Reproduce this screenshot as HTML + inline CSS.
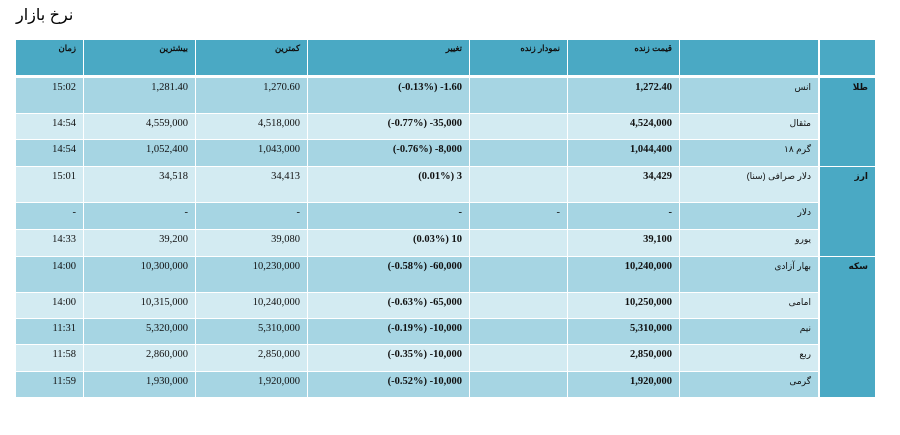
<!DOCTYPE html>
<html lang="fa"><head><meta charset="utf-8">
<style>
body{margin:0;width:900px;height:435px;background:#fff;position:relative;overflow:hidden;font-family:"Liberation Serif","Noto Sans CJK SC",serif;}
.c{position:absolute;box-sizing:border-box;padding:4px 7px 0 7px;text-align:right;font-size:10.5px;color:#111;white-space:nowrap;overflow:hidden;}
.h{background:#4aa9c4;font-family:"Liberation Sans",sans-serif;font-weight:bold;font-size:8.5px;padding-top:3px;}
.d{background:#a6d5e3;}
.l{background:#d3ebf2;}
.b{font-weight:bold;}
.x{direction:ltr;unicode-bidi:bidi-override;}
.n{font-family:"Liberation Sans","DejaVu Sans",sans-serif;font-size:9px;direction:rtl;}
.cat{background:#4aa9c4;font-family:"Liberation Sans","DejaVu Sans",sans-serif;font-weight:bold;font-size:9px;}
#title{position:absolute;left:16px;top:5px;font-family:"Liberation Sans","DejaVu Sans",sans-serif;font-size:16px;direction:rtl;}
</style></head><body>
<div id="title">نرخ بازار</div>
<div id="tbl"></div>
<script>
const cols=[[16,83],[84,195],[196,307],[308,469],[470,567],[568,679],[680,818],[820,875]];
const headers=["زمان","بیشترین","کمترین","تغییر","نمودار زنده","قیمت زنده","",""];
const tops=[78,114,140,167,203,230,257,293,319,345,372,398];
const rows=[
["15:02","1,281.40","1,270.60","(-0.13%) -1.60","","1,272.40","انس"],
["14:54","4,559,000","4,518,000","(-0.77%) -35,000","","4,524,000","مثقال"],
["14:54","1,052,400","1,043,000","(-0.76%) -8,000","","1,044,400","گرم ۱۸"],
["15:01","34,518","34,413","(0.01%) 3","","34,429","دلار صرافی (سنا)"],
["-","-","-","-","-","-","دلار"],
["14:33","39,200","39,080","(0.03%) 10","","39,100","یورو"],
["14:00","10,300,000","10,230,000","(-0.58%) -60,000","","10,240,000","بهار آزادی"],
["14:00","10,315,000","10,240,000","(-0.63%) -65,000","","10,250,000","امامی"],
["11:31","5,320,000","5,310,000","(-0.19%) -10,000","","5,310,000","نیم"],
["11:58","2,860,000","2,850,000","(-0.35%) -10,000","","2,850,000","ربع"],
["11:59","1,930,000","1,920,000","(-0.52%) -10,000","","1,920,000","گرمی"]];
const cats=[["طلا",0,3],["ارز",3,6],["سکه",6,11]];
const T=document.getElementById('tbl');
function mk(cls,x,y,w,h,txt){const e=document.createElement('div');e.className='c '+cls;e.style.left=x+'px';e.style.top=y+'px';e.style.width=w+'px';e.style.height=h+'px';e.textContent=txt;T.appendChild(e);return e;}
headers.forEach((t,i)=>{const e=mk('h',cols[i][0],40,cols[i][1]-cols[i][0],35,t);

});
rows.forEach((r,ri)=>{const y=tops[ri],h=tops[ri+1]-y-1,cls=ri%2?'l':'d';
r.forEach((t,ci)=>{const extra=ci==3?' b x':(ci==5?' b':(ci==6?' n':''));
const e=mk(cls+extra,cols[ci][0],y,cols[ci][1]-cols[ci][0],h,t);

});});
cats.forEach(c=>{const y=tops[c[1]],h=tops[c[2]]-y-1;
const e=mk('cat',cols[7][0],y,cols[7][1]-cols[7][0],h,c[0]);

});
</script>
</body></html>
